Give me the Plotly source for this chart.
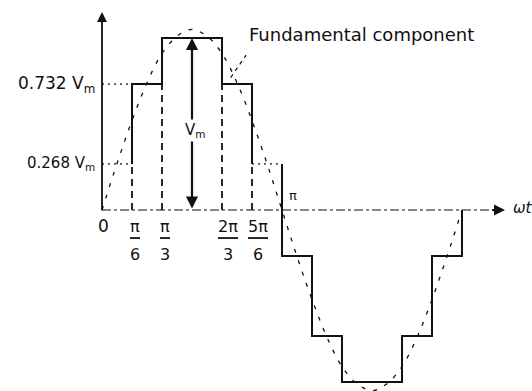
import math
import plotly.graph_objects as go

PI = math.pi

# Staircase levels (in units of V_m) for each pi/6 interval over one period
step_width = PI / 6
step_levels = [0.268, 0.732, 1.0, 1.0, 0.732, 0.268,
               -0.268, -0.732, -1.0, -1.0, -0.732, -0.268]

# Fundamental component, sampled every pi/12 over one period
fund_x_steps = list(range(0, 25))
fund_values = [0, 0.27, 0.52, 0.74, 0.91, 1.01, 1.05, 1.01, 0.91, 0.74, 0.52, 0.27,
               0, -0.27, -0.52, -0.74, -0.91, -1.01, -1.05, -1.01, -0.91, -0.74, -0.52, -0.27, 0]

# Horizontal axis tick labels (numerator / denominator)
tick_vals = [0, PI / 6, PI / 3, 2 * PI / 3, 5 * PI / 6]
tick_num = ["0", "π", "π", "2π", "5π"]
tick_den = [None, "6", "3", "3", "6"]

# Labelled reference levels
level_vals = [0.732, 0.268]
level_text = ["0.732 V<sub>m</sub>", "0.268 V<sub>m</sub>"]
level_size = [17, 15]

FONT = "DejaVu Sans, Liberation Sans, sans-serif"
INK = "#111111"

fig = go.Figure()


def seg_path(i0, i1):
    xs, ys = [], []
    for i in range(i0, i1):
        xs += [i * step_width, (i + 1) * step_width]
        ys += [step_levels[i], step_levels[i]]
    return xs, ys


# Solid staircase: rise at pi/6 up to the drop at 5pi/6
xs, ys = seg_path(1, 5)
xs = [step_width] + xs + [5 * step_width]
ys = [step_levels[0]] + ys + [step_levels[5]]
fig.add_trace(go.Scatter(x=xs, y=ys, mode="lines",
                         line=dict(color=INK, width=2), hoverinfo="skip"))
# Faint segment 5pi/6 .. pi
xs, ys = seg_path(5, 6)
fig.add_trace(go.Scatter(x=xs, y=ys, mode="lines",
                         line=dict(color=INK, width=1.2, dash="2px,4px"), hoverinfo="skip"))
# Solid staircase: pi .. 2pi, returning to zero
xs, ys = seg_path(5, 12)
xs = xs[1:] + [12 * step_width]
ys = ys[1:] + [0]
fig.add_trace(go.Scatter(x=xs, y=ys, mode="lines",
                         line=dict(color=INK, width=2), hoverinfo="skip"))

# Fundamental component (dashed)
fig.add_trace(go.Scatter(x=[k * PI / 12 for k in fund_x_steps], y=fund_values,
                         mode="lines",
                         line=dict(color=INK, width=1.3, dash="4px,8px", shape="spline"),
                         hoverinfo="skip"))

# Dotted guides from the vertical axis to the first step
for lv in level_vals:
    fig.add_trace(go.Scatter(x=[0, step_width], y=[lv, lv], mode="lines",
                             line=dict(color=INK, width=1.2, dash="2px,4px"), hoverinfo="skip"))

# Dashed drop lines at the switching angles
for tv in tick_vals[1:]:
    i = round(tv / step_width)
    h = min(step_levels[i - 1], step_levels[i])
    fig.add_trace(go.Scatter(x=[tv, tv], y=[0, h], mode="lines",
                             line=dict(color=INK, width=1.8, dash="7px,5px"), hoverinfo="skip"))

# Horizontal axis (dash-dot) with arrow
x_end = 2.239 * PI
fig.add_trace(go.Scatter(x=[0, x_end - 0.06 * PI], y=[0, 0], mode="lines",
                         line=dict(color=INK, width=1.2, dash="dashdot"), hoverinfo="skip"))
fig.add_annotation(x=x_end, y=0, ax=x_end - 0.08 * PI, ay=0, xref="x", yref="y",
                   axref="x", ayref="y", showarrow=True, arrowhead=2, arrowsize=1.1,
                   arrowwidth=2, arrowcolor=INK, text="")
fig.add_annotation(x=x_end + 0.035 * PI, y=0.01, text="<i>ωt</i>", showarrow=False,
                   xanchor="left", font=dict(family=FONT, size=15, color=INK))

# Vertical axis with arrow
fig.add_annotation(x=0, y=1.151, ax=0, ay=-0.01, xref="x", yref="y", axref="x", ayref="y",
                   showarrow=True, arrowhead=2, arrowsize=1.1, arrowwidth=1.8,
                   arrowcolor=INK, text="")

# V_m double-headed arrow with its label sitting on the shaft
fig.add_annotation(x=PI / 2, y=1.0, ax=PI / 2, ay=0, xref="x", yref="y", axref="x", ayref="y",
                   showarrow=True, arrowhead=2, startarrowhead=2, arrowside="end+start",
                   arrowsize=1.1, arrowwidth=2.2, arrowcolor=INK, text="")
fig.add_annotation(x=PI / 2, y=0.46, text="V<sub>m</sub>", showarrow=False,
                   bgcolor="white", xshift=3, borderpad=1,
                   font=dict(family=FONT, size=15, color=INK))

# Level labels
for lv, txt, sz in zip(level_vals, level_text, level_size):
    fig.add_annotation(x=0, y=lv, text=txt, showarrow=False, xanchor="right", xshift=-5,
                       font=dict(family=FONT, size=sz, color=INK))

# Fraction-style tick labels
for tv, num, den in zip(tick_vals, tick_num, tick_den):
    if den is None:
        fig.add_annotation(x=tv, y=-0.093, text=num, showarrow=False, xshift=1,
                           font=dict(family=FONT, size=17, color=INK))
        continue
    shift = 3 if len(num) == 1 else 6
    half = (5 if len(num) == 1 else 10) / 180 * PI
    cx = tv + shift / 180 * PI
    fig.add_annotation(x=cx, y=-0.093, text=num, showarrow=False,
                       font=dict(family=FONT, size=16, color=INK))
    fig.add_shape(type="line", x0=cx - half, x1=cx + half, y0=-0.163, y1=-0.163,
                  line=dict(color=INK, width=1.8))
    fig.add_annotation(x=cx, y=-0.256, text=den, showarrow=False,
                       font=dict(family=FONT, size=16, color=INK))

# pi marker on the axis
fig.add_annotation(x=1.061 * PI, y=0.087, text="π", showarrow=False,
                   font=dict(family=FONT, size=13, color=INK))

# Fundamental component callout
fig.add_trace(go.Scatter(x=[0.715 * PI, 0.80 * PI], y=[0.77, 0.90], mode="lines",
                         line=dict(color=INK, width=1.2, dash="4px,4px"), hoverinfo="skip"))
fig.add_annotation(x=0.806 * PI, y=1.02, text="Fundamental component", showarrow=False,
                   xanchor="left", font=dict(family=FONT, size=18, color=INK))

fig.update_layout(
    width=532, height=391,
    margin=dict(l=0, r=0, t=0, b=0),
    paper_bgcolor="white", plot_bgcolor="white",
    showlegend=False,
    xaxis=dict(range=[-102 / 180 * PI, 430 / 180 * PI], visible=False, fixedrange=True),
    yaxis=dict(range=[-181 / 172, 210 / 172], visible=False, fixedrange=True),
)

fig.write_html("out.html")
